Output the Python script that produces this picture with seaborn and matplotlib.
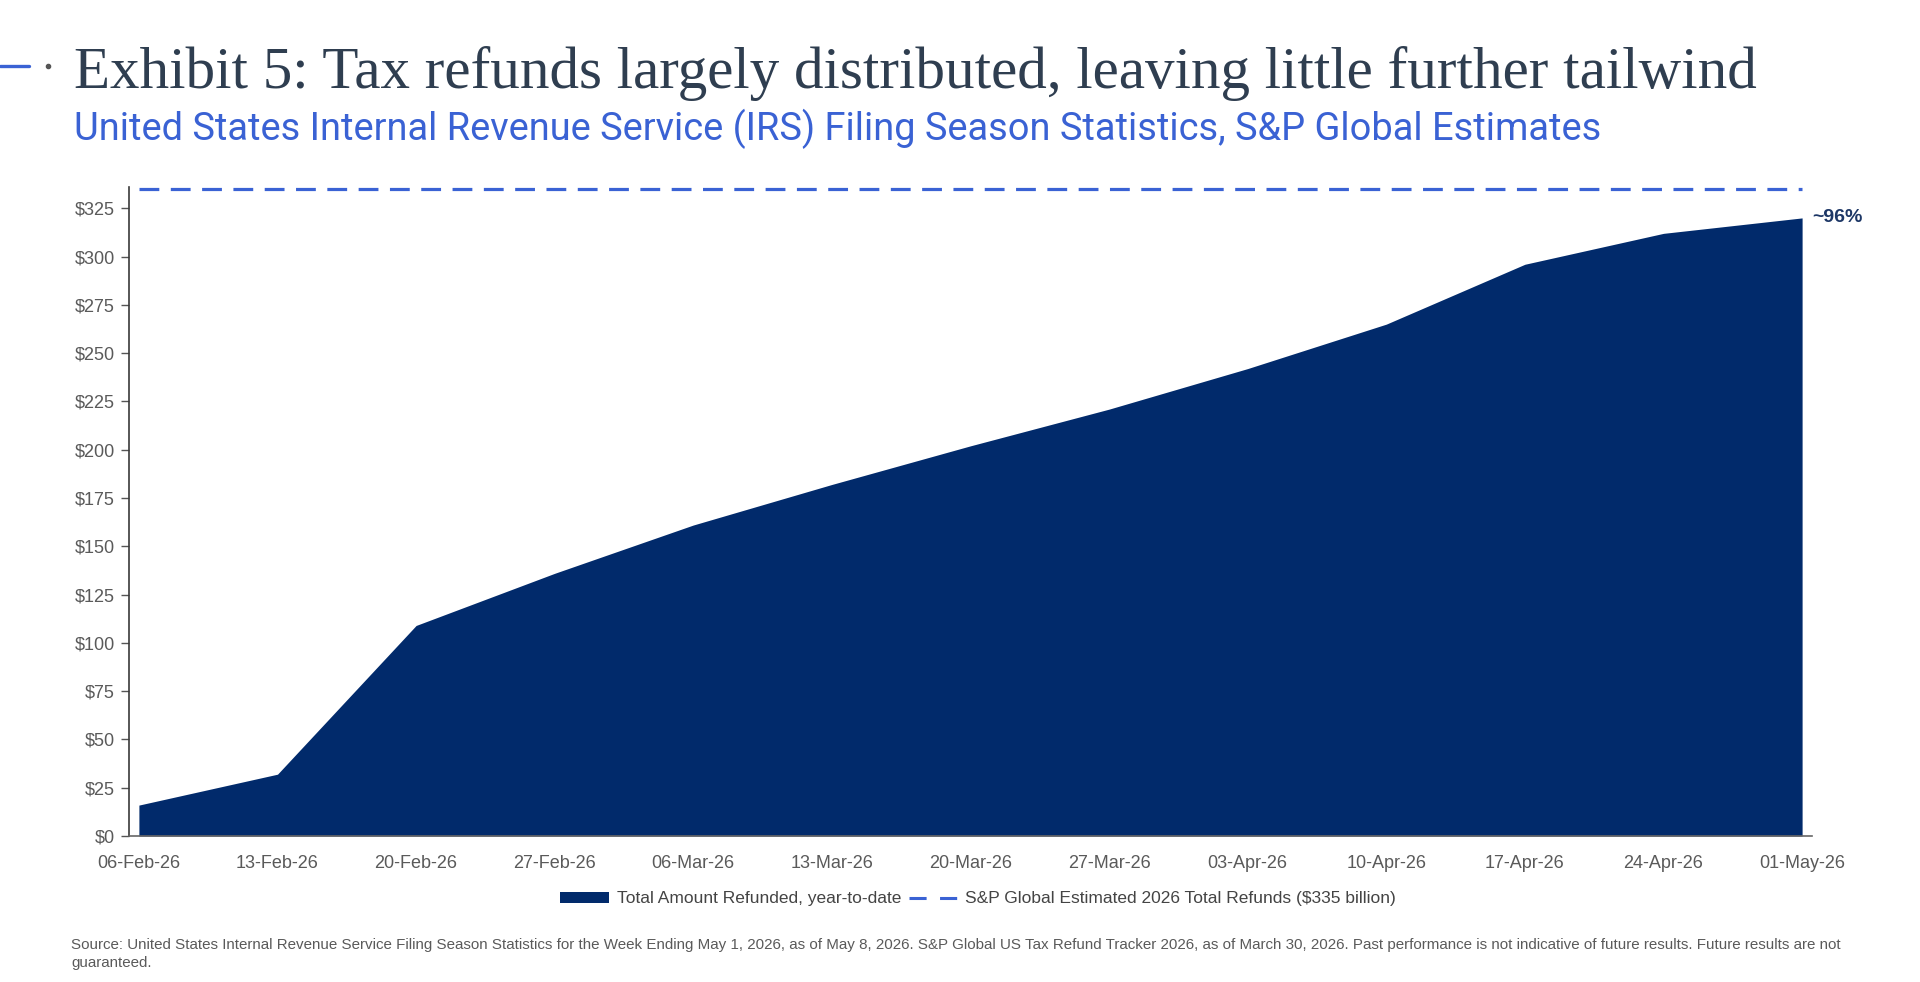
import pandas as pd
import matplotlib
matplotlib.use("Agg")
import matplotlib.pyplot as plt
from matplotlib.patches import Patch
from matplotlib.lines import Line2D
import seaborn as sns

# weekly IRS filing season stats, $ billion refunded year-to-date
week_ending = ["2026-02-06", "2026-02-13", "2026-02-20", "2026-02-27", "2026-03-06",
               "2026-03-13", "2026-03-20", "2026-03-27", "2026-04-03", "2026-04-10",
               "2026-04-17", "2026-04-24", "2026-05-01"]
refunded_ytd = [16, 32, 109, 136, 161, 182, 202, 221, 242, 265, 296, 312, 320]
estimated_total = 335
end_label = "~96%"
y_ticks = [0, 25, 50, 75, 100, 125, 150, 175, 200, 225, 250, 275, 300, 325]

title = "Exhibit 5: Tax refunds largely distributed, leaving little further tailwind"
subtitle = "United States Internal Revenue Service (IRS) Filing Season Statistics, S&P Global Estimates"
area_label = "Total Amount Refunded, year-to-date"
line_label = "S&P Global Estimated 2026 Total Refunds ($335 billion)"
source_1 = ("Source: United States Internal Revenue Service Filing Season Statistics for the Week Ending May 1, 2026, "
            "as of May 8, 2026. S&P Global US Tax Refund Tracker 2026, as of March 30, 2026. Past performance is not "
            "indicative of future results. Future results are not")
source_2 = "guaranteed."

NAVY = "#012a6b"
BLUE = "#3a62d4"
TITLE_COL = "#2f3e50"
GREY = "#5a5a5a"

df = pd.DataFrame({"date": pd.to_datetime(week_ending), "refunded": refunded_ytd})
df["estimate"] = estimated_total

sns.set_theme(style="white")
plt.rcParams["font.family"] = ["Liberation Sans", "DejaVu Sans"]

W, H = 1920, 982
fig = plt.figure(figsize=(W / 100, H / 100), dpi=100)


def fit_width(txt, target_px):
    # scale a text's font size so its rendered width matches the target
    r = fig.canvas.get_renderer()
    for _ in range(3):
        w = txt.get_window_extent(r).width
        txt.set_fontsize(txt.get_fontsize() * target_px / w)


# header
t = fig.text(74 / W, 1 - 88 / H, title, family=["Liberation Serif"], fontsize=42,
             color=TITLE_COL, va="baseline", ha="left")
fit_width(t, 1688)
s = fig.text(74 / W, 1 - 140 / H, subtitle, family=["Roboto", "DejaVu Sans"], fontsize=23,
             color=BLUE, va="baseline", ha="left")
fit_width(s, 1532)
fig.add_artist(Line2D([0, 29 / W], [1 - 66 / H] * 2, color=BLUE, lw=2.4))
fig.add_artist(Line2D([48 / W], [1 - 66 / H], marker="o", ms=3, color="#555555", lw=0))

# chart area
ax = fig.add_axes([129 / W, 1 - 836 / H, (1812 - 129) / W, (836 - 187) / H])
ax.fill_between(df["date"], 0, df["refunded"], color=NAVY, lw=0, zorder=2)
sns.lineplot(data=df, x="date", y="estimate", ax=ax, color=BLUE, lw=2.3,
             linestyle=(0, (6.2, 3.6)), legend=False, clip_on=False, zorder=3)

half_day = pd.Timedelta(hours=12)
ax.set_xlim(df["date"].iloc[0] - half_day, df["date"].iloc[-1] + half_day)
ax.set_ylim(0, 336)

ax.set_xticks(df["date"])
ax.set_xticklabels(df["date"].dt.strftime("%d-%b-%y"))
ax.set_xticks(df["date"] - half_day, minor=True)
ax.set_yticks(y_ticks)
ax.set_yticklabels([f"${v}" for v in y_ticks])

ax.tick_params(axis="x", which="major", length=0, pad=14, labelsize=13, labelcolor=GREY)
ax.tick_params(axis="x", which="minor", length=6, width=1, color="#555555", direction="out")
ax.tick_params(axis="y", length=6, width=1, color="#555555", pad=4, labelsize=13,
               labelcolor=GREY, left=True)
ax.set_xlabel("")
ax.set_ylabel("")
for side in ["top", "right"]:
    ax.spines[side].set_visible(False)
ax.spines["left"].set_color("#3a3a3a")
ax.spines["left"].set_linewidth(1.2)
ax.spines["bottom"].set_color("#666666")
ax.spines["bottom"].set_linewidth(1.2)
ax.set_facecolor("white")

ax.annotate(end_label, xy=(df["date"].iloc[-1], df["refunded"].iloc[-1]),
            xytext=(7, 0), textcoords="offset points", ha="left", va="center",
            fontsize=14, fontweight="bold", color="#1d3766")

# legend
handles = [Patch(facecolor=NAVY, edgecolor="none"),
           Line2D([], [], color=BLUE, lw=2.2, linestyle=(0, (5.6, 4.4)))]
fig.legend(handles, [area_label, line_label], loc="center", ncol=2,
           bbox_to_anchor=((556 + 1400) / 2 / W, 1 - 899 / H), frameon=False,
           fontsize=12.5, labelcolor="#444444", handlelength=2.8, handleheight=0.55,
           handletextpad=0.45, columnspacing=0.45)

# source note
src = fig.text(71 / W, 1 - 949 / H, source_1, fontsize=11, color=GREY, va="baseline", ha="left")
fit_width(src, 1769)
fig.text(71 / W, 1 - 967 / H, source_2, fontsize=src.get_fontsize(), color=GREY,
         va="baseline", ha="left")

fig.savefig("out.png", dpi=100, facecolor="white")
